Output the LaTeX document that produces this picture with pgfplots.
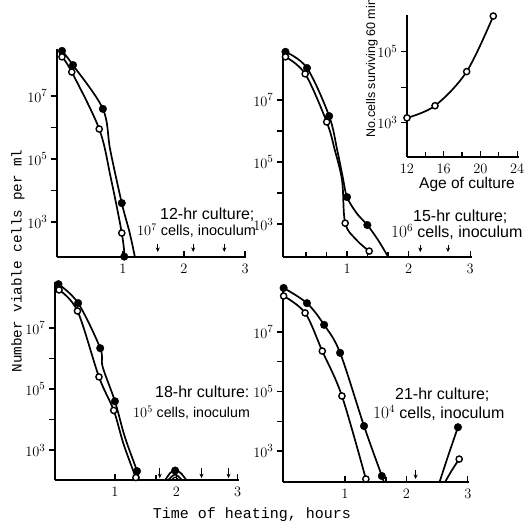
\documentclass[border=0pt]{standalone}
\usepackage{pgfplots}
\pgfplotsset{compat=1.18}
\usetikzlibrary{arrows.meta}
\usepackage{fontspec}
\setmainfont{Liberation Sans}
\newfontfamily\monofont{Liberation Mono}
\newcommand\lab{\fontsize{16}{17}\selectfont}
\pgfplotsset{
  mypanel/.style={
    scale only axis, anchor=south west,
    axis x line=bottom, axis y line=left,
    axis line style={-, line width=1.9pt},
    xtick={1,2,3},
    ytick={1e3,1e4,1e5,1e6,1e7},
    yticklabels={$10^{3}$,,$10^{5}$,,$10^{7}$},
    yminorticks=false,
    xtick align=inside, ytick align=outside,
    major tick length=6pt, minor tick length=5pt,
    tick style={black, line width=1.3pt},
    xticklabel style={font=\fontsize{15.5}{16}\selectfont, yshift=-4pt},
    yticklabel style={font=\fontsize{15.5}{16}\selectfont},
  },
}
\tikzset{
  mycur/.style={black, line width=1.7pt, smooth, tension=0.55},
  myarr/.style={black, line width=0.9pt, -{Stealth[length=4.5pt,width=4pt]}},
}
\begin{document}
\begin{tikzpicture}
\path[use as bounding box] (0,0) rectangle (530pt,526pt);

% Panel 1: 12-hr culture
\begin{axis}[mypanel, ymode=log, at={(57pt,269pt)}, width=189pt, height=208pt,
  xmin=-0.082, xmax=3.016, ymin=77.6, ymax=3.09e8]
\addplot[mycur, no markers] coordinates {(0,2.69e8) (0.18,9.55e7) (0.67,3.89e6) (0.79,1.95e5) (0.98,3.98e3) (1.11,447) (1.2,70)};
\addplot[mycur, no markers] coordinates {(0,1.74e8) (0.16,5.75e7) (0.61,8.91e5) (0.8,2.5e4) (0.98,447) (1.03,70)};
\addplot[only marks, mark=*, mark size=3.8pt, mark options={fill=black, draw=black}] coordinates {(0,2.69e8) (0.18,9.55e7) (0.67,3.89e6) (0.98,3.98e3) (1.02,80)};
\addplot[only marks, mark=*, mark size=3.1pt, mark options={fill=white, draw=black, line width=1.4pt}] coordinates {(0,1.74e8) (0.16,5.75e7) (0.61,8.91e5) (0.98,447)};
\addplot[myarr] coordinates {(1.57,200) (1.57,112)};
\addplot[myarr] coordinates {(2.15,200) (2.15,112)};
\addplot[myarr] coordinates {(2.66,200) (2.66,112)};
\end{axis}

% Panel 2: 15-hr culture
\begin{axis}[mypanel, ymode=log, at={(283pt,269pt)}, width=189pt, height=207pt,
  xmin=-0.04, xmax=3.03, ymin=87.1, ymax=4.07e8,
  minor xtick={0.333,0.667,1.333,1.667}]
\addplot[mycur, no markers] coordinates {(0,3.55e8) (0.35,1.07e8) (0.71,3.02e6) (0.84,2.45e5) (0.93,3.3e4) (1.0,7.41e3) (1.16,2.2e3) (1.33,933) (1.5,316) (1.67,87)};
\addplot[mycur, no markers] coordinates {(0,2.45e8) (0.32,6.92e7) (0.67,1.95e6) (0.8,2.5e5) (0.92,2.5e4) (0.97,1.07e3) (1.16,300) (1.36,135)};
\addplot[only marks, mark=*, mark size=3.8pt, mark options={fill=black, draw=black}] coordinates {(0,3.55e8) (0.35,1.07e8) (0.71,3.02e6) (1.0,7.41e3) (1.33,933)};
\addplot[only marks, mark=*, mark size=3.1pt, mark options={fill=white, draw=black, line width=1.4pt}] coordinates {(0,2.45e8) (0.32,6.92e7) (0.67,1.95e6) (0.97,1.07e3) (1.36,135)};
\addplot[myarr] coordinates {(2.19,210) (2.19,125)};
\addplot[myarr] coordinates {(2.64,210) (2.64,125)};
\end{axis}

% Panel 3: 18-hr culture
\begin{axis}[mypanel, ymode=log, at={(55pt,46pt)}, width=184pt, height=198pt,
  xmin=0.024, xmax=3.02, ymin=104.7, ymax=3.24e8,
  minor xtick={1.667}]
\addplot[mycur, no markers] coordinates {(0.08,2.75e8) (0.4,6.61e7) (0.76,2.19e6) (0.8,5.37e5) (1.0,3.98e4) (1.16,2.75e3) (1.36,204) (1.39,105)};
\addplot[mycur, no markers] coordinates {(0.09,1.78e8) (0.39,3.63e7) (0.74,2.51e5) (0.98,2.0e4) (1.14,1.58e3) (1.34,126)};
\addplot[mycur, no markers] coordinates {(1.82,105) (1.9,178) (1.98,219) (2.07,178) (2.16,105)};
\addplot[mycur, no markers] coordinates {(1.87,105) (1.98,158) (2.09,105)};
\addplot[mycur, no markers, line width=1.1pt] coordinates {(1.92,105) (1.98,130) (2.04,105)};
\addplot[only marks, mark=*, mark size=3.8pt, mark options={fill=black, draw=black}] coordinates {(0.08,2.75e8) (0.4,6.61e7) (0.76,2.19e6) (1.0,3.98e4) (1.36,204) (1.98,214)};
\addplot[only marks, mark=*, mark size=3.1pt, mark options={fill=white, draw=black, line width=1.4pt}] coordinates {(0.09,1.78e8) (0.39,3.63e7) (0.74,2.51e5) (0.98,2.0e4) (1.34,126)};
\addplot[myarr] coordinates {(1.73,257) (1.73,120)};
\addplot[myarr] coordinates {(2.41,257) (2.41,120)};
\addplot[myarr] coordinates {(2.85,257) (2.85,120)};
\end{axis}

% Panel 4: 21-hr culture
\begin{axis}[mypanel, ymode=log, at={(283pt,44pt)}, width=186pt, height=197pt,
  xmin=-0.01, xmax=3.02, ymin=91.2, ymax=3.8e8,
  minor xtick={1.333,1.667}]
\addplot[mycur, no markers] coordinates {(0,3.02e8) (0.38,9.33e7) (0.66,1.74e7) (0.92,2.0e6) (1.31,6.92e3) (1.6,145) (1.63,91)};
\addplot[mycur, no markers] coordinates {(0,1.62e8) (0.35,4.37e7) (0.63,2.29e6) (0.95,7.08e4) (1.34,115)};
\addplot[mycur, no markers] coordinates {(2.54,91) (2.69,794) (2.84,6.31e3)};
\addplot[mycur, no markers] coordinates {(2.63,91) (2.74,224) (2.86,537)};
\addplot[only marks, mark=*, mark size=3.8pt, mark options={fill=black, draw=black}] coordinates {(0,3.02e8) (0.38,9.33e7) (0.66,1.74e7) (0.92,2.0e6) (1.31,6.92e3) (1.6,145) (2.84,6.31e3)};
\addplot[only marks, mark=*, mark size=3.1pt, mark options={fill=white, draw=black, line width=1.4pt}] coordinates {(0,1.62e8) (0.35,4.37e7) (0.63,2.29e6) (0.95,7.08e4) (1.34,115) (2.86,537)};
\addplot[myarr] coordinates {(2.15,230) (2.15,115)};
\end{axis}

% Inset
\begin{axis}[mypanel, ymode=log, at={(407pt,369pt)}, width=112pt, height=142pt,
  xmin=12, xmax=24.2, ymin=109.6, ymax=1.07e6,
  xtick={12,16,20,24}, minor xtick={14,18,22},
  ytick={1e3,1e4,1e5}, yticklabels={$10^{3}$,,$10^{5}$}]
\addplot[mycur, no markers] coordinates {(12,1.38e3) (15.05,3.02e3) (18.5,2.75e4) (21.4,1e6)};
\addplot[only marks, mark=*, mark size=3.1pt, mark options={fill=white, draw=black, line width=1.4pt}] coordinates {(12,1.38e3) (15.05,3.02e3) (18.5,2.75e4) (21.4,1e6)};
\end{axis}

% Annotations
\node[anchor=base west, inner sep=0pt] at (160pt,306pt) {\lab 12-hr culture;};
\node[anchor=base west, inner sep=0pt] at (137pt,290pt) {\fontsize{14.5}{15}\selectfont $10^{7}$ cells, inoculum};
\node[anchor=base west, inner sep=0pt] at (413pt,304pt) {\lab 15-hr culture;};
\node[anchor=base west, inner sep=0pt] at (391pt,288pt) {\lab $10^{6}$ cells, inoculum};
\node[anchor=base west, inner sep=0pt] at (155pt,128pt) {\lab 18-hr culture:};
\node[anchor=base west, inner sep=0pt] at (133pt,108pt) {\fontsize{14.2}{15}\selectfont $10^{5}$ cells, inoculum};
\node[anchor=base west, inner sep=0pt] at (395pt,126pt) {\lab 21-hr culture;};
\node[anchor=base west, inner sep=0pt] at (373pt,107pt) {\lab $10^{4}$ cells, inoculum};

\node[rotate=90, inner sep=0pt] at (372pt,458pt) {\fontsize{12.5}{13}\selectfont No.cells surviving 60 min};
\node[inner sep=0pt] at (467pt,341pt) {\fontsize{15.5}{16}\selectfont Age of culture};

\node[rotate=90, inner sep=0pt] at (18pt,265pt) {\monofont\fontsize{14.3}{15}\selectfont Number viable cells per ml};
\node[inner sep=0pt] at (252pt,11pt) {\monofont\fontsize{15}{16}\selectfont Time of heating, hours};
\end{tikzpicture}
\end{document}
